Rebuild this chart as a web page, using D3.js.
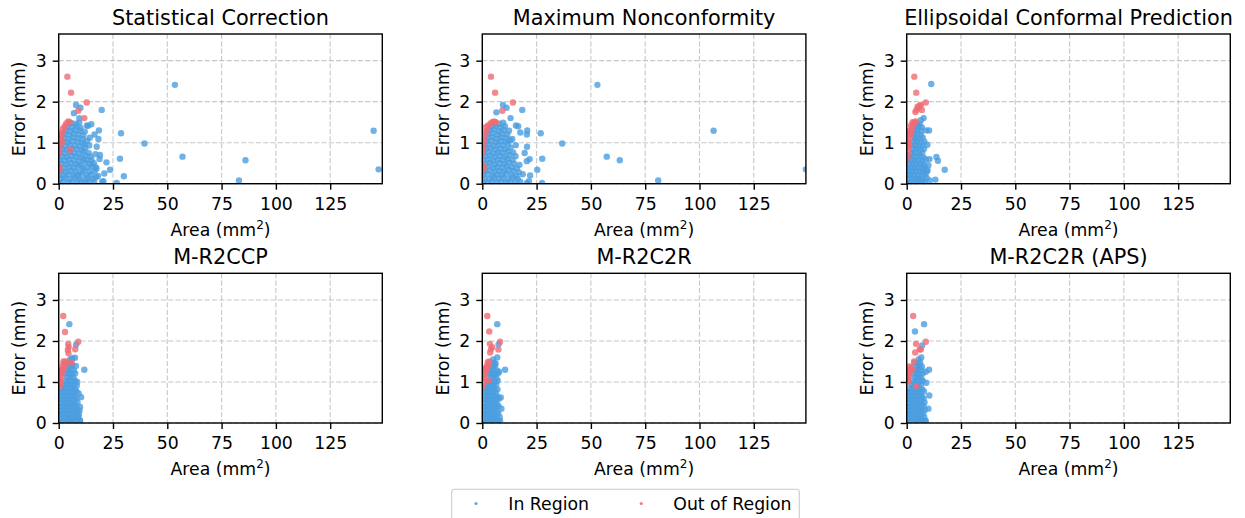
<!DOCTYPE html>
<html><head><meta charset="utf-8">
<script src="https://cdn.jsdelivr.net/npm/d3@7"></script>
<style>body{margin:0;background:#fff;} svg{display:block;font-family:"DejaVu Sans",sans-serif;}</style>
</head><body><svg id="chart" width="1245" height="518"></svg>
<script>
const methods = ["Statistical Correction","Maximum Nonconformity","Ellipsoidal Conformal Prediction","M-R2CCP","M-R2C2R","M-R2C2R (APS)"];
const xTicks = [0,25,50,75,100,125];
const yTicks = [0,1,2,3];
const xMax = 149, yMax = 3.65;
const legendLabels = ["In Region","Out of Region"];
const xLabel = "Area (mm", yLabel = "Error (mm)";

// [area, error] pairs
const scIn = [[0.4,0.03],[2.1,0.05],[4.3,0.02],[6.2,0.06],[8.5,0.03],[10.4,0.05],[12.6,0.02],[14.1,0.07],[16.3,0.04],
[0.8,0.12],[3.0,0.14],[5.1,0.11],[7.4,0.15],[9.2,0.12],[11.5,0.10],[13.3,0.14],[15.8,0.12],[17.2,0.16],
[0.3,0.22],[2.4,0.20],[4.6,0.23],[6.8,0.21],[8.9,0.19],[10.7,0.24],[12.9,0.21],[15.0,0.22],[18.1,0.19],
[1.1,0.31],[3.3,0.29],[5.5,0.32],[7.7,0.30],[9.6,0.28],[11.8,0.33],[14.2,0.30],[16.6,0.31],
[0.5,0.40],[2.6,0.38],[4.9,0.41],[6.9,0.39],[9.1,0.42],[11.2,0.38],[13.4,0.40],[15.4,0.43],[17.4,0.37],
[1.3,0.49],[3.5,0.47],[5.7,0.50],[7.8,0.48],[10.0,0.46],[12.1,0.51],[14.5,0.48],[16.2,0.50],
[0.6,0.58],[2.8,0.56],[4.8,0.59],[7.1,0.57],[9.3,0.55],[11.4,0.60],[13.0,0.57],[15.1,0.58],
[1.4,0.67],[3.6,0.65],[5.9,0.68],[8.1,0.66],[10.2,0.64],[12.4,0.69],[14.6,0.66],
[0.7,0.76],[2.9,0.74],[5.0,0.77],[7.2,0.75],[9.4,0.73],[11.6,0.78],[13.8,0.75],[16.9,0.72],
[1.5,0.85],[3.7,0.83],[6.1,0.86],[8.3,0.84],[10.5,0.82],[12.2,0.87],
[0.9,0.94],[3.1,0.92],[5.2,0.95],[7.5,0.93],[9.7,0.91],[11.9,0.96],[14.0,0.93],
[1.8,1.03],[4.0,1.01],[6.3,1.04],[8.6,1.02],[10.8,1.00],[13.1,1.05],
[2.2,1.12],[4.4,1.10],[6.6,1.13],[8.8,1.11],[11.0,1.09],[14.3,1.12],
[2.5,1.21],[4.7,1.19],[7.0,1.22],[9.0,1.20],[11.3,1.18],
[3.2,1.30],[5.3,1.28],[7.6,1.31],[9.8,1.29],[12.0,1.27],
[4.1,1.39],[6.0,1.37],[8.2,1.40],[10.1,1.36],[13.5,1.41],
[5.8,1.48],[7.9,1.46],[9.5,1.49],
[53.5,2.41],[145,1.29],[147.3,0.35],[86,0.57],[83,0.08],[57,0.66],[39.5,0.98],[28.7,1.23],[28.2,0.61],[30,0.18],
[26.7,0.02],[22,0.52],[23.6,0.34],[20.6,0.06],[21,0.25],[19.8,1.8],[18.3,1.09],[18.5,1.3],[17.5,0.9],[16.5,1.2],
[17,0.4],[15,1.45],[13,1.42],[10,1.85],[8,1.92],[7,1.72],[9.5,1.6],[19,0.7],[18.8,0.6],[20,0.05]];
const scOut = [[4,2.61],[5.7,2.22],[12.9,1.98],[9,1.78],[11.8,1.6],[5.0,1.50],[4.4,1.52],[3.5,1.47],[2.8,1.40],[2.0,1.35],
[1.6,1.25],[1.2,1.18],[0.8,1.08],[0.6,0.98],[0.4,0.88],[0.3,0.75],[5.2,0.83],[0.4,0.40],[0.3,0.32],[1.9,1.02]];

const mnIn = [[0.5,0.04],[2.3,0.02],[4.5,0.06],[6.6,0.03],[8.7,0.05],[10.9,0.02],[13.0,0.06],[15.2,0.03],[17.5,0.05],
[1.0,0.13],[3.2,0.11],[5.4,0.15],[7.5,0.12],[9.7,0.14],[11.8,0.11],[14.0,0.15],[16.3,0.12],
[0.4,0.22],[2.5,0.24],[4.7,0.20],[6.9,0.23],[9.0,0.21],[11.2,0.25],[13.3,0.22],[15.6,0.19],[18.6,0.23],
[1.2,0.31],[3.4,0.33],[5.6,0.29],[7.8,0.32],[10.0,0.30],[12.1,0.34],[14.4,0.31],[16.8,0.28],
[0.5,0.40],[2.7,0.42],[4.9,0.38],[7.0,0.41],[9.2,0.39],[11.4,0.43],[13.6,0.40],[15.9,0.37],
[1.3,0.49],[3.5,0.51],[5.7,0.47],[7.9,0.50],[10.1,0.48],[12.3,0.52],[14.7,0.49],[17.1,0.46],
[0.6,0.58],[2.8,0.60],[5.0,0.56],[7.2,0.59],[9.4,0.57],[11.6,0.61],[13.9,0.58],
[1.4,0.67],[3.6,0.69],[5.8,0.65],[8.0,0.68],[10.3,0.66],[12.6,0.70],[15.3,0.67],
[0.7,0.76],[2.9,0.78],[5.1,0.74],[7.3,0.77],[9.5,0.75],[11.8,0.79],[14.2,0.76],
[1.6,0.85],[3.8,0.87],[6.0,0.83],[8.2,0.86],[10.5,0.84],[13.0,0.88],
[1.0,0.94],[3.0,0.96],[5.2,0.92],[7.4,0.95],[9.6,0.93],[11.9,0.97],[15.4,0.94],
[2.0,1.03],[4.1,1.05],[6.3,1.01],[8.5,1.04],[10.7,1.02],[12.8,1.06],
[2.3,1.12],[4.5,1.14],[6.7,1.10],[8.9,1.13],[11.1,1.11],[13.8,1.09],
[2.6,1.21],[4.8,1.23],[7.0,1.19],[9.2,1.22],[11.5,1.20],
[3.3,1.30],[5.4,1.32],[7.6,1.28],[9.9,1.31],[12.3,1.29],
[4.2,1.39],[6.1,1.41],[8.3,1.37],[10.4,1.40],
[5.9,1.48],[7.8,1.46],[9.6,1.49],
[53,2.41],[106.5,1.29],[149,0.35],[63.3,0.57],[81,0.08],[57.3,0.66],[36.8,0.98],[26.9,1.23],[27.6,0.61],[27.5,0.02],
[25.3,0.34],[21.5,0.06],[22,0.2],[20.7,1.3],[20.5,1.2],[18.4,1.8],[11.2,1.85],[9.5,1.92],[6.5,1.74],[13,1.6],
[16.5,1.4],[15.5,1.42],[20.5,0.55],[21.8,0.6],[19.5,0.75],[20.6,0.9],[17.5,1.25],[20.5,0.02]];
const mnOut = [[4,2.61],[5.9,2.22],[14.1,1.98],[9.2,1.78],[5.4,1.52],[4.6,1.50],[6.2,1.50],[3.8,1.47],[2.6,1.42],[1.6,1.38],
[2.2,1.30],[1.4,1.25],[1.0,1.15],[0.7,1.05],[0.5,0.95],[0.4,0.85],[0.3,0.75],[0.8,0.39],[0.3,0.35],[0.3,0.45]];

const ecpIn = [[0.3,0.03],[1.9,0.05],[3.5,0.02],[5.1,0.06],[6.7,0.03],[8.3,0.05],
[1.0,0.12],[2.6,0.14],[4.2,0.11],[5.8,0.13],[7.4,0.10],[9.2,0.14],
[0.4,0.21],[2.0,0.23],[3.6,0.20],[5.2,0.22],[6.9,0.19],[8.6,0.23],
[1.1,0.30],[2.7,0.32],[4.3,0.29],[6.0,0.31],[7.6,0.28],[9.6,0.33],
[0.5,0.39],[2.1,0.41],[3.7,0.38],[5.3,0.40],[7.0,0.37],[8.4,0.41],
[1.2,0.48],[2.8,0.50],[4.4,0.47],[6.1,0.49],[7.8,0.46],
[0.6,0.57],[2.2,0.59],[3.8,0.56],[5.4,0.58],[7.1,0.55],[8.8,0.59],
[1.3,0.66],[2.9,0.68],[4.5,0.65],[6.2,0.67],[7.7,0.64],
[2.3,0.75],[3.9,0.77],[5.5,0.74],[7.2,0.76],
[3.0,0.84],[4.6,0.86],[6.3,0.83],[8.0,0.85],
[2.4,0.93],[4.0,0.95],[5.6,0.92],[7.3,0.94],
[3.1,1.02],[4.7,1.04],[6.4,1.01],[8.1,1.03],
[3.5,1.11],[4.1,1.13],[5.7,1.10],[7.4,1.12],
[3.2,1.20],[4.8,1.22],[6.5,1.19],[9.0,1.30],
[3.4,1.29],[4.9,1.31],[6.6,1.28],[10.3,1.30],
[4.0,1.38],[5.5,1.40],[7.0,1.37],
[4.6,1.47],[6.0,1.45],[6.5,1.55],[7.8,1.6],
[11.3,2.43],[13.7,0.65],[14.4,0.56],[17.5,0.34],[13.2,0.1],[10.6,0.08],[9.5,0.95],[10.5,0.6],[9.3,0.3],[10.0,0.45]];
const ecpOut = [[3.5,2.61],[4.4,2.22],[8.8,1.98],[6.0,1.90],[5.0,1.88],[7.0,1.80],[5.5,1.85],[4.0,1.75],[6.5,1.92],[4.5,1.80],
[0.4,0.70],[0.6,0.80],[0.8,0.90],[1.0,1.00],[0.5,1.05],[1.3,1.10],[0.9,1.20],[1.8,1.20],[1.5,1.30],[2.4,1.35],
[2.0,1.42],[3.0,1.45],[3.6,1.50],[2.7,1.50],[4.2,1.52],[0.3,0.62],[1.2,0.95],[2.1,1.28]];

const ccpIn = [[0.3,0.03],[1.8,0.05],[3.3,0.02],[4.8,0.06],[6.3,0.03],[7.8,0.05],[9.8,0.06],
[1.0,0.12],[2.5,0.14],[4.0,0.11],[5.5,0.13],[7.0,0.10],[8.5,0.14],
[0.4,0.21],[1.9,0.23],[3.4,0.20],[4.9,0.22],[6.4,0.19],[7.9,0.23],[9.3,0.21],
[1.1,0.30],[2.6,0.32],[4.1,0.29],[5.6,0.31],[7.1,0.28],[8.6,0.32],
[0.5,0.39],[2.0,0.41],[3.5,0.38],[5.0,0.40],[6.5,0.37],[8.0,0.41],[9.8,0.39],
[1.2,0.48],[2.7,0.50],[4.2,0.47],[5.7,0.49],[7.2,0.46],[8.7,0.50],
[0.6,0.57],[2.1,0.59],[3.6,0.56],[5.1,0.58],[6.6,0.55],[8.1,0.59],
[1.3,0.66],[2.8,0.68],[4.3,0.65],[5.8,0.67],[7.3,0.64],[10.3,0.63],
[0.7,0.75],[2.2,0.77],[3.7,0.74],[5.2,0.76],[6.7,0.73],[8.2,0.77],
[1.4,0.84],[2.9,0.86],[4.4,0.83],[5.9,0.85],[7.4,0.82],
[2.3,0.93],[3.8,0.95],[5.3,0.92],[6.8,0.94],[8.3,0.91],
[3.0,1.02],[4.5,1.04],[6.0,1.01],[7.5,1.03],[8.5,1.0],
[3.9,1.11],[5.4,1.13],[6.9,1.10],
[3.1,1.20],[4.6,1.22],[6.1,1.19],[7.6,1.21],
[4.0,1.29],[5.5,1.31],[7.0,1.28],
[4.7,1.38],[6.2,1.40],[7.9,1.39],
[4.2,1.47],[5.6,1.45],[5.2,1.55],[6.2,1.58],
[4.9,2.41],[8.0,1.91],[7.5,1.59],[11.8,1.30],[9.8,0.06],[9.2,0.72],[9.6,0.30],[9.0,0.15]];
const ccpOut = [[2.1,2.61],[2.9,2.22],[9,1.98],[4.4,1.93],[4.6,1.85],[4.2,1.78],[4.5,1.70],[7.6,1.80],[6.0,1.48],
[0.4,0.88],[0.8,0.98],[0.5,1.05],[1.2,1.10],[0.9,1.18],[1.6,1.22],[1.3,1.30],[2.1,1.32],[1.8,1.40],[2.6,1.45],
[2.2,1.50],[3.1,1.50],[3.6,1.47],[3.0,1.38],[0.4,0.95],[1.0,1.25]];

const c2rIn = [[0.3,0.03],[1.7,0.05],[3.1,0.02],[4.5,0.06],[5.9,0.03],[7.3,0.05],[8.2,0.05],
[1.0,0.12],[2.4,0.14],[3.8,0.11],[5.2,0.13],[6.6,0.10],[8.0,0.14],
[0.4,0.21],[1.8,0.23],[3.2,0.20],[4.6,0.22],[6.0,0.19],[7.4,0.23],
[1.1,0.30],[2.5,0.32],[3.9,0.29],[5.3,0.31],[6.7,0.28],[8.8,0.35],
[0.5,0.39],[1.9,0.41],[3.3,0.38],[4.7,0.40],[6.1,0.37],[7.5,0.41],
[1.2,0.48],[2.6,0.50],[4.0,0.47],[5.4,0.49],[6.8,0.46],
[0.6,0.57],[2.0,0.59],[3.4,0.56],[4.8,0.58],[6.2,0.55],[7.6,0.59],
[1.3,0.66],[2.7,0.68],[4.1,0.65],[5.5,0.67],[6.9,0.64],[8.5,0.62],
[0.7,0.75],[2.1,0.77],[3.5,0.74],[4.9,0.76],[6.3,0.73],
[1.4,0.84],[2.8,0.86],[4.2,0.83],[5.6,0.85],[7.0,0.82],
[2.2,0.93],[3.6,0.95],[5.0,0.92],[6.4,0.94],
[2.9,1.02],[4.3,1.04],[5.7,1.01],[7.1,1.03],
[3.7,1.11],[5.1,1.13],[6.5,1.10],
[3.0,1.20],[4.4,1.22],[5.8,1.19],[7.2,1.21],
[3.8,1.29],[5.2,1.31],[6.6,1.28],
[4.5,1.38],[5.9,1.40],
[5.3,1.47],[6.1,1.45],[5.0,1.55],
[6.9,2.41],[7.5,1.92],[6.9,1.60],[10.5,1.30],[7.8,1.25]];
const c2rOut = [[2.3,2.61],[3.2,2.23],[8.2,1.98],[3.5,1.93],[4.6,1.85],[7.4,1.79],[3.6,1.72],[4.0,1.80],[3.1,1.04],
[0.4,0.90],[0.8,1.00],[0.5,1.08],[1.2,1.12],[0.9,1.20],[1.6,1.25],[1.3,1.32],[2.2,1.35],[1.9,1.38],[2.8,1.40],
[2.5,1.48],[3.2,1.50],[0.4,1.30]];

const apsIn = [[0.3,0.03],[1.7,0.05],[3.2,0.02],[4.6,0.06],[6.1,0.03],[7.5,0.05],[8.7,0.05],
[1.0,0.12],[2.4,0.14],[3.9,0.11],[5.3,0.13],[6.8,0.10],[8.1,0.14],
[0.4,0.21],[1.8,0.23],[3.3,0.20],[4.7,0.22],[6.2,0.19],[7.6,0.23],
[1.1,0.30],[2.5,0.32],[4.0,0.29],[5.4,0.31],[6.9,0.28],[8.3,0.32],[10.0,0.35],
[0.5,0.39],[1.9,0.41],[3.4,0.38],[4.8,0.40],[6.3,0.37],[7.7,0.41],
[1.2,0.48],[2.6,0.50],[4.1,0.47],[5.5,0.49],[7.0,0.46],[8.2,0.50],
[0.6,0.57],[2.0,0.59],[3.5,0.56],[4.9,0.58],[6.4,0.55],[7.8,0.59],
[1.3,0.66],[2.7,0.68],[4.2,0.65],[5.6,0.67],[7.1,0.64],[10.4,0.67],
[0.7,0.75],[2.1,0.77],[3.6,0.74],[5.0,0.76],[6.5,0.73],[7.9,0.77],
[1.4,0.84],[2.8,0.86],[4.3,0.83],[5.7,0.85],[7.2,0.82],
[2.2,0.93],[3.7,0.95],[5.1,0.92],[6.6,0.94],[9.0,0.98],
[2.9,1.02],[4.4,1.04],[5.8,1.01],[7.3,1.03],
[3.8,1.11],[5.2,1.13],[6.7,1.10],
[3.0,1.20],[4.5,1.22],[5.9,1.19],[7.4,1.21],[8.8,1.25],
[3.9,1.29],[5.3,1.31],[6.8,1.28],
[4.6,1.38],[6.0,1.40],[7.0,1.37],
[3.6,1.47],[5.0,1.45],[6.2,1.48],[5.5,1.55],
[8.0,2.41],[3.8,2.23],[7.1,1.89],[6.7,1.60],[10.3,1.30],[8.7,0.05]];
const apsOut = [[3.0,2.61],[8.8,1.98],[4.3,1.93],[6.5,1.79],[6.0,1.80],[3.9,1.72],[4.3,0.90],
[0.4,1.00],[0.8,1.05],[0.5,1.10],[1.2,1.15],[0.9,1.25],[1.6,1.30],[2.0,1.35],[1.4,1.38],[2.6,1.30],[3.4,1.50],[0.4,1.2]];

const inRegion = [scIn, mnIn, ecpIn, ccpIn, c2rIn, apsIn];
const outRegion = [scOut, mnOut, ecpOut, ccpOut, c2rOut, apsOut];

const blue = "#4a9de0", red = "#ef6b75";
const svg = d3.select("#chart");
const colLeft = [58.7, 482.3, 906.7], rowTop = [34, 273.3];
const W = 323.6, H = 149.7;
const x = d3.scaleLinear().domain([0, xMax]).range([0, W]);
const y = d3.scaleLinear().domain([0, yMax]).range([H, 0]);
const fs = 17.3, R = 3.2;

methods.forEach((m, i) => {
  const g = svg.append("g").attr("transform", `translate(${colLeft[i % 3]},${rowTop[Math.floor(i / 3)]})`);
  const grid = g.append("g").attr("stroke", "#b0b0b0").attr("stroke-opacity", 0.7)
    .attr("stroke-dasharray", "5.1,2.2").attr("stroke-width", 1.1);
  grid.selectAll("line.gx").data(xTicks).join("line").attr("class", "gx")
    .attr("x1", d => x(d)).attr("x2", d => x(d)).attr("y1", 0).attr("y2", H);
  grid.selectAll("line.gy").data(yTicks).join("line").attr("class", "gy")
    .attr("x1", 0).attr("x2", W).attr("y1", d => y(d)).attr("y2", d => y(d));

  g.append("clipPath").attr("id", "clip" + i).append("rect").attr("width", W).attr("height", H);
  const pg = g.append("g").attr("clip-path", `url(#clip${i})`);
  pg.selectAll("circle.in").data(inRegion[i]).join("circle").attr("class", "in")
    .attr("cx", d => x(d[0])).attr("cy", d => y(d[1])).attr("r", R)
    .attr("fill", blue).attr("fill-opacity", 0.8);
  pg.selectAll("circle.out").data(outRegion[i]).join("circle").attr("class", "out")
    .attr("cx", d => x(d[0])).attr("cy", d => y(d[1])).attr("r", R)
    .attr("fill", red).attr("fill-opacity", 0.8);

  const xa = g.append("g").attr("transform", `translate(0,${H})`)
    .call(d3.axisBottom(x).tickValues(xTicks).tickFormat(d3.format("d")).tickSize(6).tickSizeOuter(0).tickPadding(7.7));
  const ya = g.append("g")
    .call(d3.axisLeft(y).tickValues(yTicks).tickFormat(d3.format("d")).tickSize(6).tickSizeOuter(0).tickPadding(6));
  [xa, ya].forEach(a => {
    a.select(".domain").remove();
    a.selectAll(".tick line").attr("stroke", "#000").attr("stroke-width", 1.4);
    a.selectAll(".tick text").attr("font-size", fs).attr("font-family", "DejaVu Sans").attr("fill", "#000");
  });

  g.append("rect").attr("width", W).attr("height", H).attr("fill", "none")
    .attr("stroke", "#000").attr("stroke-width", 1.4);

  g.append("text").attr("x", W / 2).attr("y", -9.5).attr("text-anchor", "middle")
    .attr("font-size", 20.8).attr("fill", "#000").text(m);

  const xl = g.append("text").attr("x", W / 2).attr("y", H + 52).attr("text-anchor", "middle")
    .attr("font-size", fs).attr("fill", "#000");
  xl.append("tspan").text(xLabel);
  xl.append("tspan").attr("font-size", 12).attr("dy", -7).text("2");
  xl.append("tspan").attr("dy", 7).text(")");

  g.append("text").attr("transform", `translate(-33.4,${H / 2}) rotate(-90)`)
    .attr("text-anchor", "middle").attr("font-size", fs).attr("fill", "#000").text(yLabel);
});

// legend
const lg = svg.append("g");
lg.append("rect").attr("x", 451.7).attr("y", 489.3).attr("width", 347.6).attr("height", 34)
  .attr("rx", 3).attr("fill", "#fff").attr("fill-opacity", 0.8).attr("stroke", "#cccccc").attr("stroke-width", 1.1);
const legendColors = [blue, red];
const legendDotX = [476, 641.3];
const legendTextX = [508.3, 673.3];
legendLabels.forEach((lab, k) => {
  lg.append("circle").attr("cx", legendDotX[k]).attr("cy", 503.5).attr("r", 1.6)
    .attr("fill", legendColors[k]).attr("fill-opacity", 0.9);
  lg.append("text").attr("x", legendTextX[k]).attr("y", 509.5).attr("font-size", fs)
    .attr("fill", "#000").text(lab);
});
</script></body></html>
